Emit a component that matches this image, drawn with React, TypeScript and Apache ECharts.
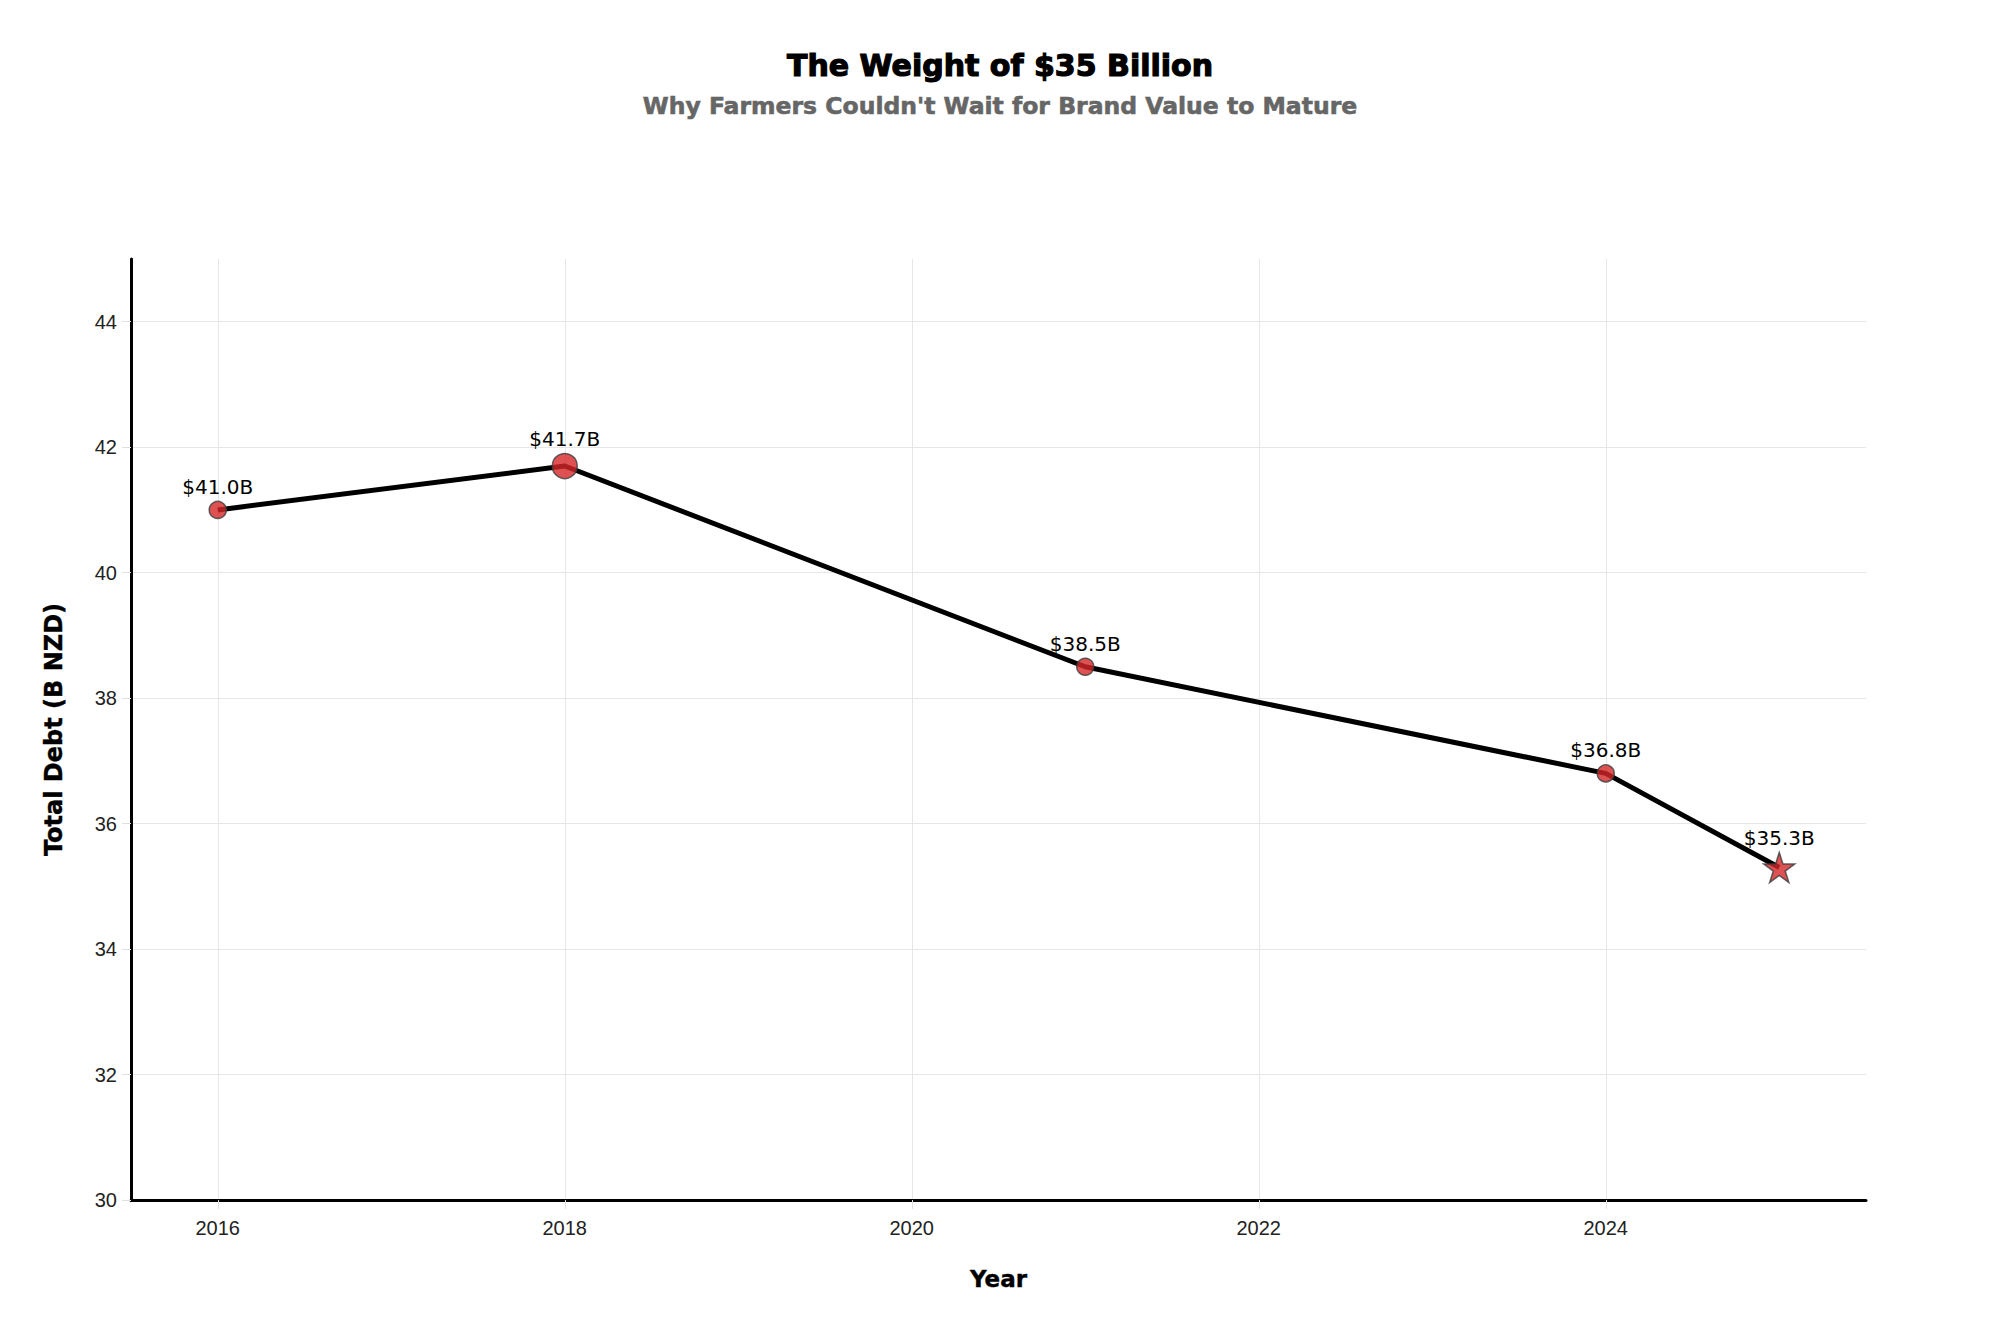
import React, { useEffect, useRef } from "react";
import * as echarts from "echarts";

const years = [2016, 2018, 2021, 2024, 2025];
const debt = [41.0, 41.7, 38.5, 36.8, 35.3];
const markerKinds = ["circle", "big", "circle", "circle", "star"];
const xTicks = [2016, 2018, 2020, 2022, 2024];
const yTicks = [30, 32, 34, 36, 38, 40, 42, 44];

const TITLE = "The Weight of $35 Billion";
const SUBTITLE = "Why Farmers Couldn't Wait for Brand Value to Mature";
const X_NAME = "Year";
const Y_NAME = "Total Debt (B NZD)";

const STAR =
  "path://M50,0 L61.23,34.55 L97.55,34.55 L68.17,55.9 L79.39,90.45 L50,69.1 L20.61,90.45 L31.83,55.9 L2.45,34.55 L38.77,34.55 Z";

export default function App() {
  const ref = useRef<HTMLDivElement>(null);
  useEffect(() => {
    if (!ref.current) return;
    const chart = echarts.init(ref.current, null, { renderer: "svg" });
    const tickFont = "'Liberation Sans', Arial, sans-serif";
    const dv = "'DejaVu Sans', sans-serif";
    const data = years.map((y, i) => {
      const kind = markerKinds[i];
      const item: any = { value: [y, debt[i]] };
      if (kind === "big") {
        item.symbol = "circle";
        item.symbolSize = 25;
      } else if (kind === "star") {
        item.symbol = STAR;
        item.symbolSize = [31, 30];
      } else {
        item.symbol = "circle";
        item.symbolSize = 17;
      }
      return item;
    });
    chart.setOption({
      animation: false,
      backgroundColor: "#ffffff",
      title: [
        {
          text: TITLE,
          left: "center",
          top: 45,
          textStyle: {
            fontFamily: dv,
            fontWeight: "bold",
            fontSize: 30,
            color: "#000",
            textBorderColor: "#000",
            textBorderWidth: 1.2,
          },
        },
        {
          text: SUBTITLE,
          left: "center",
          top: 89,
          textStyle: {
            fontFamily: dv,
            fontWeight: "bold",
            fontSize: 23.5,
            color: "#666666",
            textBorderColor: "#666666",
            textBorderWidth: 0.6,
          },
        },
      ],
      grid: { left: 131, right: 134, top: 259, bottom: 133, containLabel: false },
      xAxis: {
        type: "value",
        min: 2015.5,
        max: 2025.5,
        name: X_NAME,
        nameLocation: "middle",
        nameGap: 67,
        nameTextStyle: {
          fontFamily: dv,
          fontWeight: "bold",
          fontSize: 23,
          color: "#000",
          textBorderColor: "#000",
          textBorderWidth: 0.4,
        },
        axisLine: { show: true, lineStyle: { color: "#000", width: 3 } },
        axisTick: { show: true, length: 9, lineStyle: { color: "#e0e0e0" }, customValues: xTicks },
        axisLabel: {
          customValues: xTicks,
          fontFamily: tickFont,
          fontSize: 20,
          color: "#222",
          margin: 18,
          formatter: (v: number) => String(v),
        },
        splitLine: { show: true, lineStyle: { color: "#e6e6e6", width: 1 } },
      },
      yAxis: {
        type: "value",
        min: 30,
        max: 45,
        name: Y_NAME,
        nameLocation: "middle",
        nameGap: 65,
        nameRotate: 90,
        nameTextStyle: {
          fontFamily: dv,
          fontWeight: "bold",
          fontSize: 24,
          color: "#000",
          textBorderColor: "#000",
          textBorderWidth: 0.4,
        },
        axisLine: { show: true, lineStyle: { color: "#000", width: 3 } },
        axisTick: { show: true, length: 9, lineStyle: { color: "#e0e0e0" }, customValues: yTicks },
        axisLabel: {
          customValues: yTicks,
          fontFamily: tickFont,
          fontSize: 20,
          color: "#222",
          margin: 14,
        },
        splitLine: { show: true, lineStyle: { color: "#e6e6e6", width: 1 } },
      },
      series: [
        {
          type: "line",
          data,
          lineStyle: { color: "#000", width: 5 },
          itemStyle: {
            color: "rgba(214,39,40,0.8)",
            borderColor: "rgba(60,60,60,0.8)",
            borderWidth: 1.5,
          },
          label: {
            show: true,
            position: "top",
            distance: 4,
            fontFamily: dv,
            fontSize: 20,
            color: "#000",
            formatter: (p: any) => "$" + p.value[1].toFixed(1) + "B",
          },
          emphasis: { disabled: true },
          z: 3,
        },
      ],
    });
    return () => chart.dispose();
  }, []);
  return (
    <div
      ref={ref}
      style={{ position: "fixed", left: 0, top: 0, width: 2000, height: 1333 }}
    />
  );
}
